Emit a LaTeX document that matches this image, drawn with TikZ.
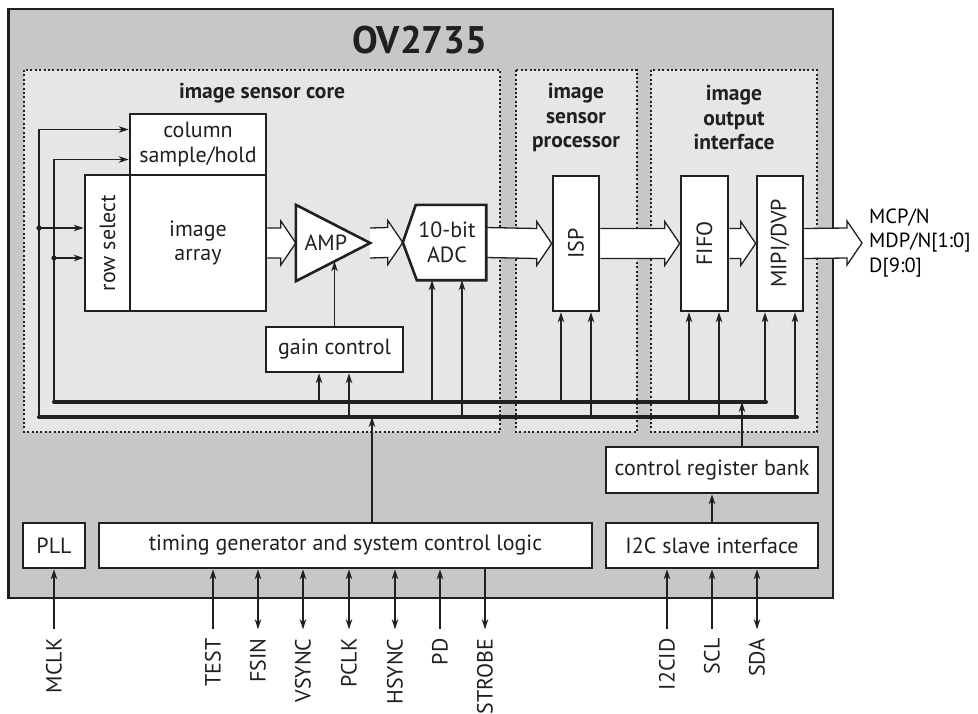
\documentclass[tikz,border=0pt]{standalone}
\usepackage{fontspec}
\setmainfont{PT Sans}
\usetikzlibrary{arrows.meta,calc}

\definecolor{ink}{RGB}{35,31,32}
\definecolor{chipgray}{RGB}{198,199,201}
\definecolor{zonegray}{RGB}{229,230,232}

\newcommand{\fatarrow}[2]{%
  \filldraw[fat] ($(#1)+(0,-15)$) -- ($(#2)+(-15,-15)$) -- ($(#2)+(-15,-22)$) -- (#2)
    -- ($(#2)+(-15,22)$) -- ($(#2)+(-15,15)$) -- ($(#1)+(0,15)$);}
\newcommand{\tap}[3]{%
  \draw[sig] let \p1=($(#1.south)+(#2,0)$), \p2=(#3) in (\x1,\y2) -- (\p1);}

\tikzset{
  chip/.style={draw=ink, line width=2.6pt, fill=chipgray},
  zone/.style={draw=ink, line width=2pt, dash pattern=on 2pt off 2.4pt, fill=zonegray},
  block/.style={draw=ink, line width=2.6pt, fill=white, inner sep=0pt, align=center},
  blockline/.style={draw=ink, line width=2.6pt, fill=white, line join=miter},
  fat/.style={draw=ink, line width=1.3pt, fill=white, line join=miter},
  wire/.style={draw=ink, line width=1.3pt},
  sig/.style={wire, ->},
  pinin/.style={wire, <-},
  pinio/.style={wire, <->},
  pinout/.style={wire, ->},
  bus/.style={draw=ink, line width=4pt, line cap=round},
  zonelabel/.style={font=\fontsize{21.5}{24.5}\selectfont\bfseries, align=center},
  pinlabel/.style={rotate=90, anchor=east, inner sep=0pt},
}

\begin{document}
\begin{tikzpicture}[x=1pt, y=-1pt, >={Stealth[length=10pt, width=6.5pt, inset=3pt]},
  every node/.append style={text=ink, font=\fontsize{22}{24.5}\selectfont}]
\useasboundingbox (0,0) rectangle (978,713);

% chip and zones
\draw[chip] (8.5,9) rectangle (833,598);
\draw[zone] (24,70) rectangle (500,432);
\draw[zone] (516,70) rectangle (637,432);
\draw[zone] (651,70) rectangle (817,432);

\node[font=\fontsize{38.5}{40}\selectfont\bfseries] (title) at (420,40) {OV2735};
\node[zonelabel] (corelabel) at (262,93) {image sensor core};
\node[zonelabel] (isplabel) at (576,118) {image\\sensor\\processor};
\node[zonelabel] (outlabel) at (734,118) {image\\output\\interface};

% data path
\node[block, minimum width=136, minimum height=61] (col) at (198,144.5) {column\\sample/hold};
\node[block, minimum width=45, minimum height=136] (rowsel) at (107.5,243) {\rotatebox{90}{row select}};
\node[block, minimum width=136, minimum height=136] (array) at (198,243) {image\\array};

\node[minimum width=74, minimum height=76, inner sep=0pt] (amp) at (333,243) {};
\node[minimum width=83, minimum height=75, inner sep=0pt] (adc) at (444.5,242.5) {};

\node[block, minimum width=46, minimum height=135] (isp) at (576,243.5) {\rotatebox{90}{ISP}};
\node[block, minimum width=47, minimum height=135] (fifo) at (704.5,243.5) {\rotatebox{90}{FIFO}};
\node[block, minimum width=46, minimum height=135] (mipi) at (780,243.5) {\rotatebox{90}{MIPI/DVP}};
\node[anchor=west, inner xsep=7pt, align=left, text=black, font=\fontsize{20.5}{24.5}\selectfont] (outtxt) at (862,243) {MCP/N\\MDP/N[1:0]\\D[9:0]};

\fatarrow{array.east}{amp.west}
\fatarrow{amp.east}{adc.west}
\fatarrow{adc.east}{isp.west}
\fatarrow{isp.east}{fifo.west}
\fatarrow{fifo.east}{mipi.west}
\fatarrow{mipi.east}{outtxt.west}

\filldraw[blockline] (amp.north west) -- (amp.east) -- (amp.south west) -- cycle;
\node (amptext) at ($(amp.west)+(30,0)$) {AMP};
\filldraw[blockline] ($(adc.north west)+(13,0)$) -- (adc.north east) -- (adc.south east)
  -- ($(adc.south west)+(14,0)$) -- (adc.west) -- cycle;
\node[align=center] (adctext) at ($(adc.center)+(2.5,0)$) {10-bit\\ADC};

\node[block, minimum width=137, minimum height=45] (gain) at (334.5,349.5) {gain control};
\coordinate (ampS) at ($(amp.south west)!0.52!(amp.east)$);
\draw[sig] (gain.north) -- (gain.north |- ampS);

% control buses
\coordinate (busAw) at (54,402);
\coordinate (busAe) at (766,402);
\coordinate (busBw) at (39,417);
\coordinate (busBe) at (797,417);
\draw[bus] (busAw) -- (busAe);
\draw[bus] (busBw) -- (busBe);

\coordinate (cs1) at ($(col.west)+(0,-15)$);
\coordinate (cs2) at ($(col.west)+(0,15)$);
\coordinate (rs1) at ($(rowsel.west)+(0,-15)$);
\coordinate (rs2) at ($(rowsel.west)+(0,15)$);
\draw[sig] (busBw) |- (cs1);
\draw[sig] (busAw) |- (cs2);
\draw[sig] (busBw |- rs1) -- (rs1);
\draw[sig] (busAw |- rs2) -- (rs2);
\fill[ink] (busBw |- rs1) circle[radius=2.6pt];
\fill[ink] (busAw |- rs2) circle[radius=2.6pt];

\tap{gain}{-15.5}{busAw}
\tap{gain}{14.5}{busBw}
\tap{adc}{-12.5}{busAw}
\tap{adc}{17.5}{busBw}
\tap{isp}{-15}{busAw}
\tap{isp}{15}{busBw}
\tap{fifo}{-15.5}{busAw}
\tap{fifo}{14.5}{busBw}
\tap{mipi}{-15}{busAw}
\tap{mipi}{15}{busBw}

% control blocks
\node[block, minimum width=62, minimum height=45] (pll) at (54,545.5) {PLL};
\node[block, minimum width=493, minimum height=45] (timing) at (345.5,545.5) {timing generator and system control logic};
\node[block, minimum width=212, minimum height=46] (crb) at (712,470) {control register bank};
\node[block, minimum width=212, minimum height=45] (i2c) at (712,545.5) {I2C slave interface};

\coordinate (tg) at ($(timing.north)+(26.5,0)$);
\draw[sig] (tg) -- (tg |- busBw);
\coordinate (cr) at ($(crb.north)+(30,0)$);
\draw[sig] (cr) -- (cr |- busAw);
\draw[sig] (i2c.north) -- (crb.south);

% pins
\node[pinlabel] (pMCLK) at ($(pll.south)+(0,69)$) {MCLK};
\draw[pinin] (pll.south) -- ([yshift=9pt]pMCLK.east);
\foreach \nm/\dx/\dir in {TEST/-132.5/pinin, FSIN/-87.5/pinio, VSYNC/-42.5/pinio,
    PCLK/3.5/pinio, HSYNC/49.5/pinio, PD/94.5/pinin, STROBE/139.5/pinout}{
  \node[pinlabel] (p\nm) at ($(timing.south)+(\dx,69)$) {\nm};
  \draw[\dir] (timing.south -| p\nm.east) -- ([yshift=9pt]p\nm.east);
}
\foreach \nm/\dx/\dir in {I2CID/-45/pinin, SCL/0/pinin, SDA/45/pinio}{
  \node[pinlabel] (p\nm) at ($(i2c.south)+(\dx,69)$) {\nm};
  \draw[\dir] (i2c.south -| p\nm.east) -- ([yshift=9pt]p\nm.east);
}
\end{tikzpicture}
\end{document}
